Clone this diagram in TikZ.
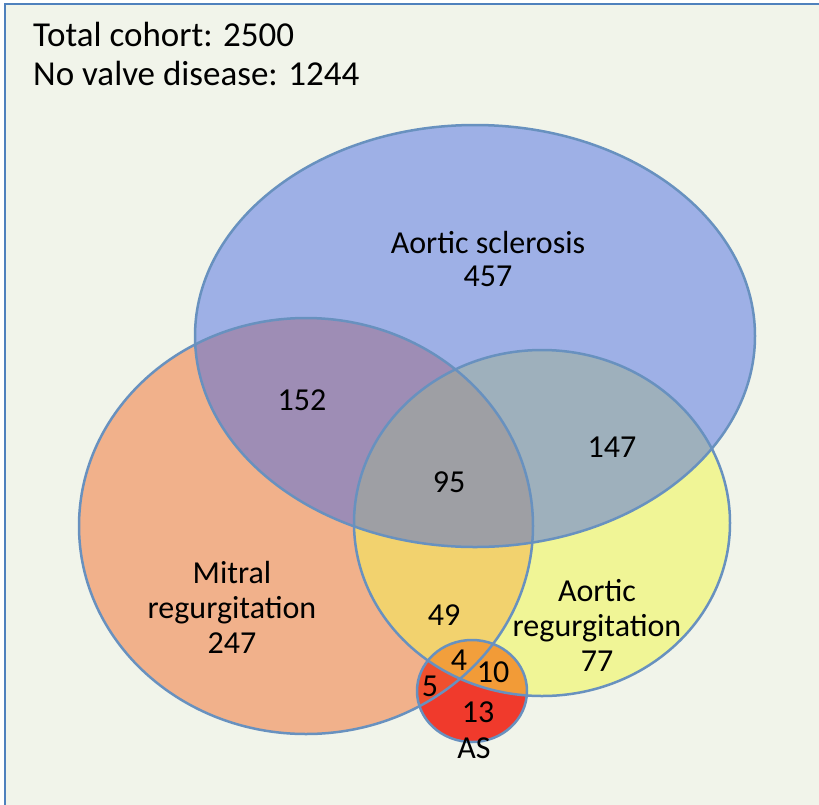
\documentclass[tikz,border=0pt]{standalone}
\usepackage{fontspec}
\setmainfont{Carlito}
\usepackage{tikz}
\usetikzlibrary{positioning}

\definecolor{vBack}{HTML}{F1F4EA}
\definecolor{vFrame}{HTML}{4F81BD}
\definecolor{vLine}{HTML}{6891BF}
\definecolor{vBlue}{HTML}{9EB0E6}
\definecolor{vOrange}{HTML}{F1B18B}
\definecolor{vYellow}{HTML}{F0F596}
\definecolor{vRed}{HTML}{F03A2C}
\definecolor{vBO}{HTML}{9E8DB5}
\definecolor{vBY}{HTML}{9EB0BC}
\definecolor{vBOY}{HTML}{9E9FA4}
\definecolor{vOY}{HTML}{F2D26E}
\definecolor{vOR}{HTML}{F0502E}
\definecolor{vYR}{HTML}{F29B37}
\definecolor{vOYR}{HTML}{F29F3C}

\newcommand{\ellSclerosis}{(475,336) ellipse [x radius=280pt, y radius=211pt]}
\newcommand{\ellMitral}{(306,526) ellipse [x radius=227pt, y radius=208pt]}
\newcommand{\ellAorticReg}{(542,523) ellipse [x radius=188pt, y radius=173pt]}
\newcommand{\ellStenosis}{(472,691) ellipse [x radius=55pt, y radius=51pt]}

\tikzstyle{vText} = [font=\fontsize{32}{38}\selectfont, text height=22pt, text depth=8pt, inner sep=0pt]
\tikzstyle{vTitle} = [font=\fontsize{35}{42}\selectfont, anchor=base west, inner sep=0pt]
\tikzstyle{vOutline} = [draw=vLine, line width=2.5pt]

\begin{document}
\begin{tikzpicture}[x=1pt, y=-1pt, node distance=35pt]
    \useasboundingbox (0,0) rectangle (819,804);
    \clip (0,0) rectangle (819,804);
    \fill[white] (0,0) rectangle (819,804);
    \draw[vFrame, line width=2.5pt, fill=vBack] (5,4) rectangle (850,850);

    % the four sets
    \fill[vOrange] \ellMitral;
    \fill[vYellow] \ellAorticReg;
    \fill[vBlue] \ellSclerosis;
    \fill[vRed] \ellStenosis;

    % overlaps
    \begin{scope} \clip \ellSclerosis; \fill[vBO] \ellMitral; \end{scope}
    \begin{scope} \clip \ellSclerosis; \fill[vBY] \ellAorticReg; \end{scope}
    \begin{scope} \clip \ellMitral; \fill[vOY] \ellAorticReg; \end{scope}
    \begin{scope} \clip \ellSclerosis; \clip \ellMitral; \fill[vBOY] \ellAorticReg; \end{scope}
    \begin{scope} \clip \ellStenosis; \fill[vOR] \ellMitral; \end{scope}
    \begin{scope} \clip \ellStenosis; \fill[vYR] \ellAorticReg; \end{scope}
    \begin{scope} \clip \ellStenosis; \clip \ellMitral; \fill[vOYR] \ellAorticReg; \end{scope}

    \draw[vOutline] \ellMitral;
    \draw[vOutline] \ellAorticReg;
    \draw[vOutline] \ellSclerosis;
    \draw[vOutline] \ellStenosis;

    % labels
    \node (total) [vTitle] at (33,46) {Total cohort: 2500};
    \node (novalve) [vTitle] at (33,85) {No valve disease: 1244};

    \node (sclerosis) [vText] at (488,246) {Aortic sclerosis};
    \node (n457) [vText, below of=sclerosis, yshift=2pt] {457};
    \node (n152) [vText] at (302,403) {152};
    \node (n95) [vText] at (449,485) {95};
    \node (n147) [vText] at (612,450) {147};
    \node (mitral) [vText] at (232,576) {Mitral};
    \node (mitralReg) [vText, below of=mitral] {regurgitation};
    \node (n247) [vText, below of=mitralReg] {247};
    \node (aortic) [vText] at (597,594) {Aortic};
    \node (aorticReg) [vText, below of=aortic] {regurgitation};
    \node (n77) [vText, below of=aorticReg] {77};
    \node (n49) [vText] at (444,618) {49};
    \node (n4) [vText] at (459,663) {4};
    \node (n10) [vText] at (493,675) {10};
    \node (n5) [vText] at (430,689) {5};
    \node (n13) [vText] at (478,715) {13};
    \node (stenosis) [vText] at (474,751) {AS};
\end{tikzpicture}
\end{document}
